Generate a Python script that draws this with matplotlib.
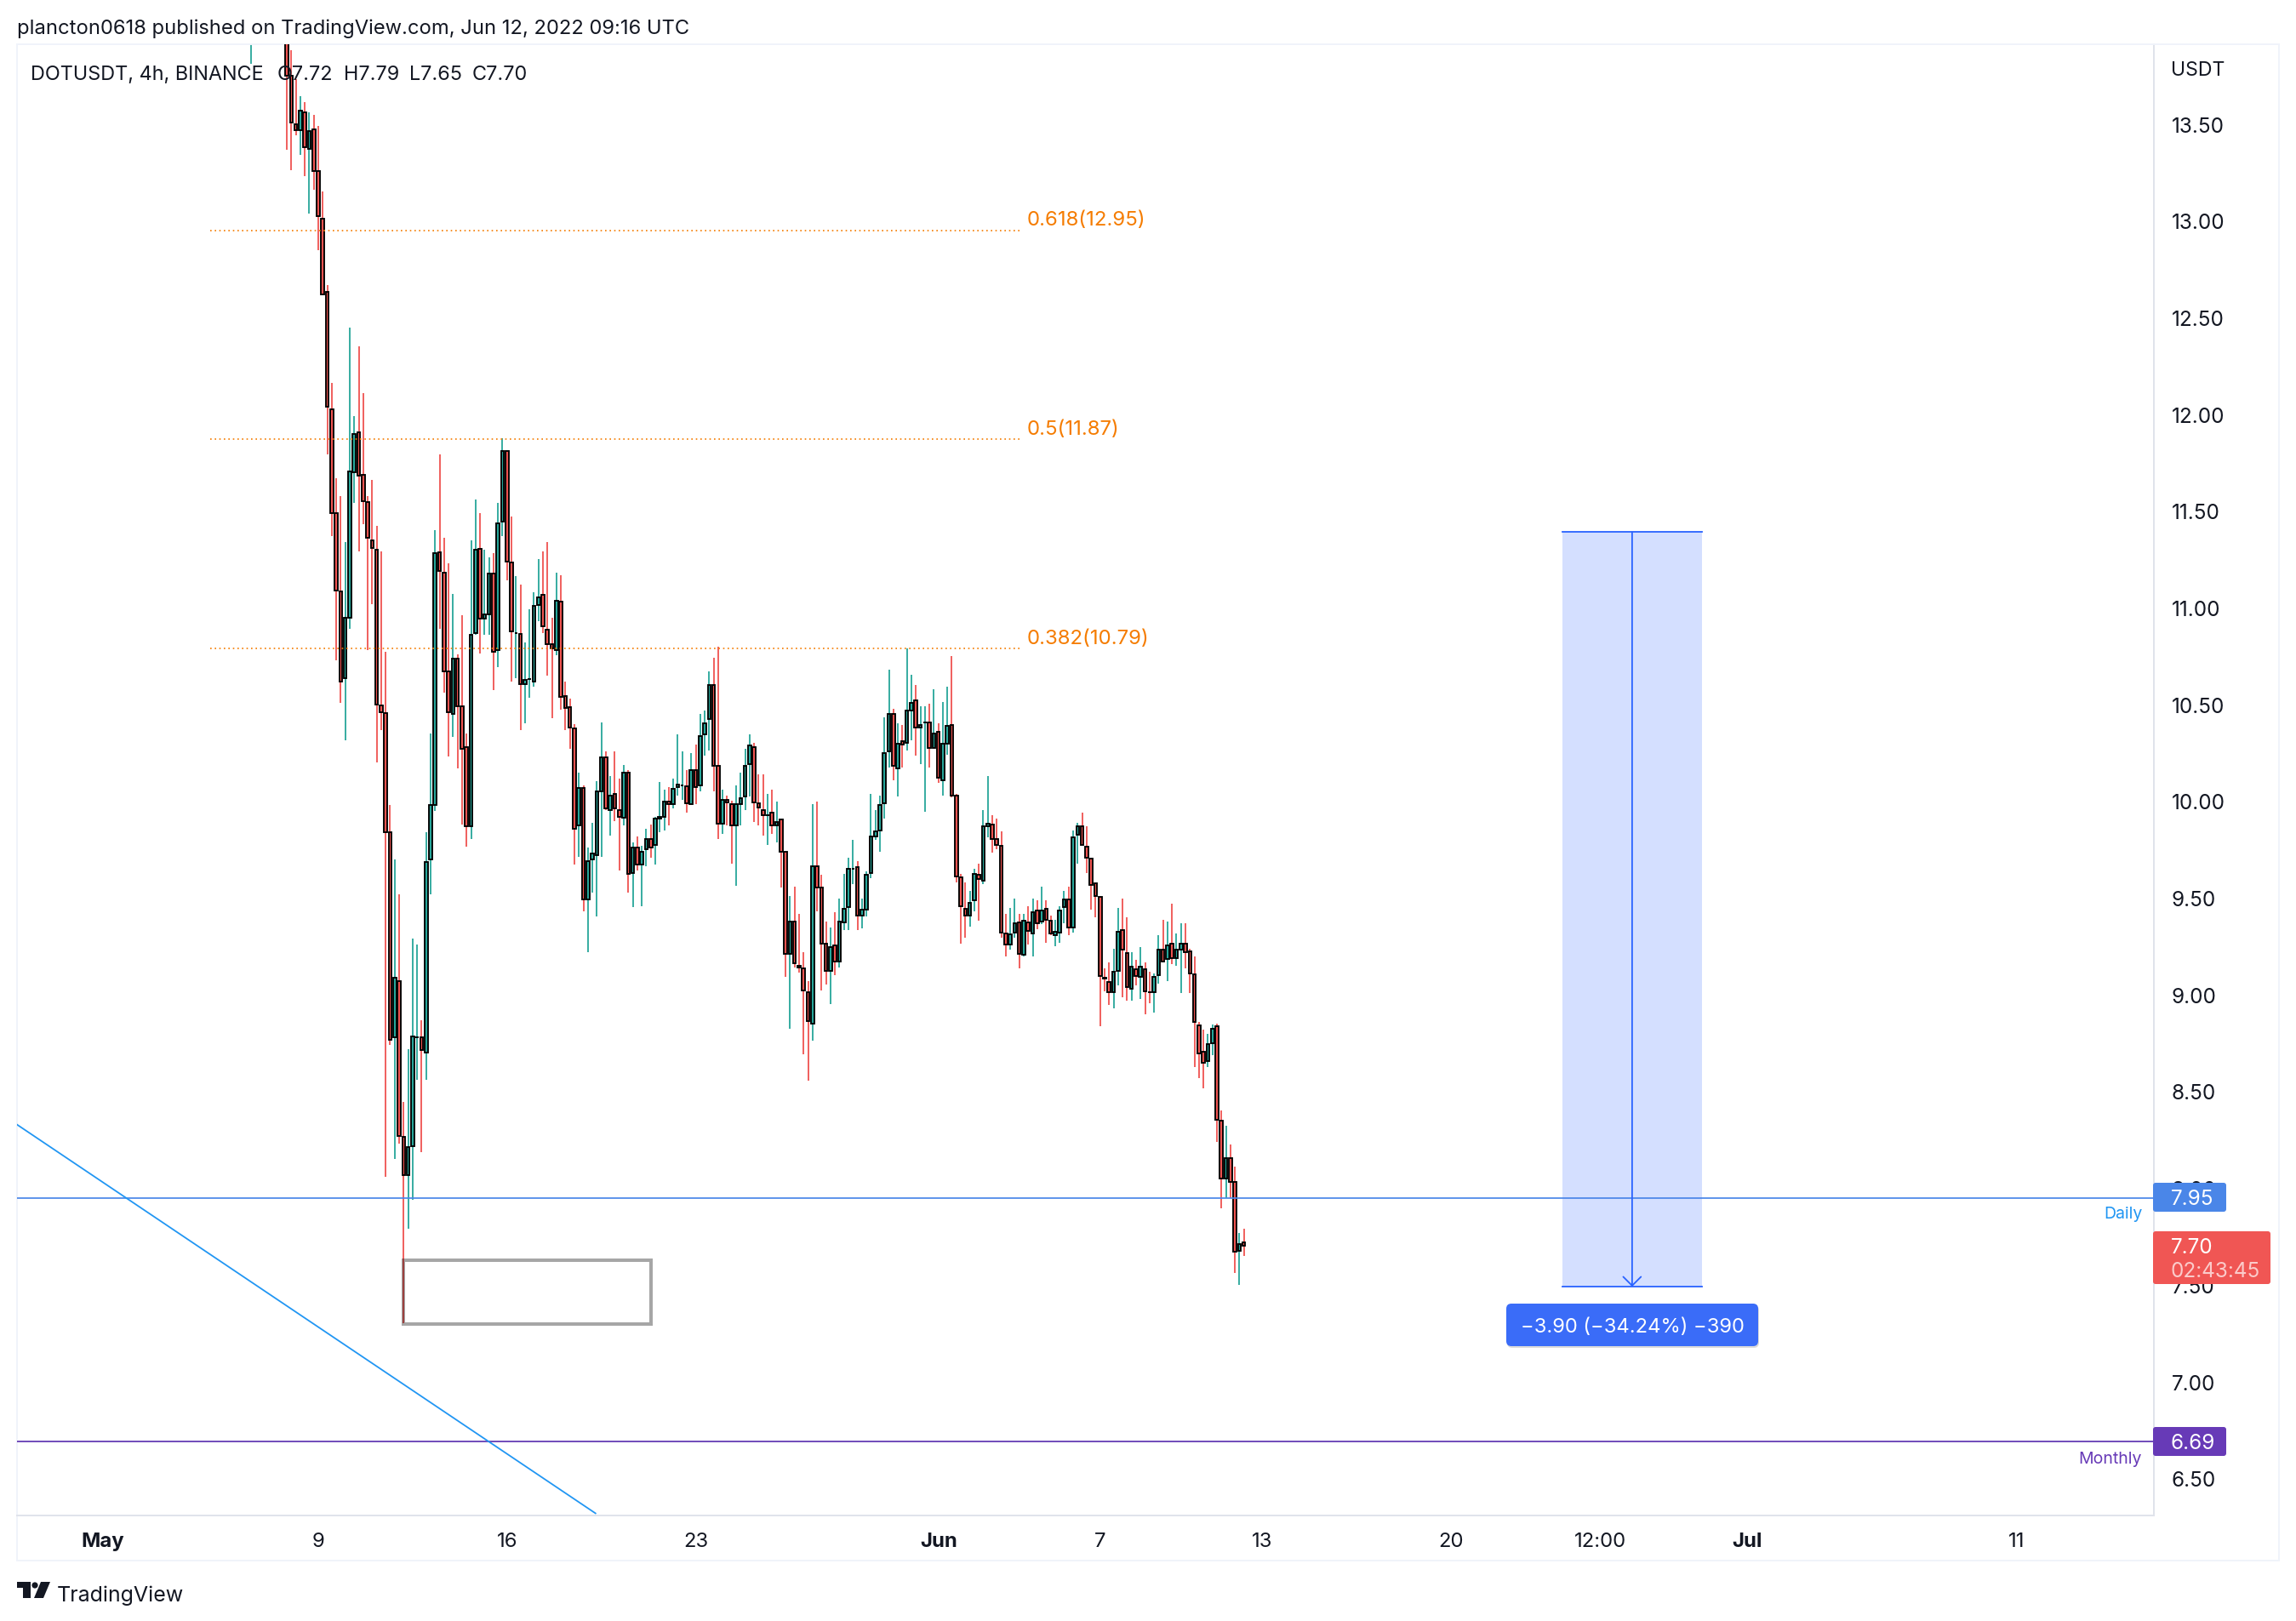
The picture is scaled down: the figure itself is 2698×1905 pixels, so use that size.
import numpy as np
import matplotlib
matplotlib.use("Agg")
import matplotlib.pyplot as plt
from matplotlib.patches import Rectangle, FancyBboxPatch, Polygon, Circle
from matplotlib.transforms import Affine2D

W, H = 2698, 1906
nan = float("nan")

# 4h bars; the bar index counts from May 9 00:00, the first listed bar is -15
first_bar = -15
opens = [14.20, nan, nan, nan, nan, nan, nan, nan,
 14.20, 13.75, 13.50, 13.466, 13.558, 13.372, 13.47,
 13.258, 13.008, 12.63, 12.026, 11.486, 11.085, 10.634, 10.949, 11.701, 11.908,
 11.686, 11.547, 11.346, 11.298, 10.496, 10.456, 9.839, 8.778, 9.068, 8.263,
 8.068, 8.218, 8.781, 8.778, 8.698, 9.70, 9.981, 11.288, 11.179, 10.67,
 10.45, 10.738, 10.488, 10.277, 9.871, 10.868, 11.305, 10.942, 10.965, 11.178,
 10.782, 11.442, 11.808, 11.235, 10.868, 10.865, 10.604, 10.63, 10.619, 11.012,
 11.068, 10.887, 10.81, 10.782, 11.03, 10.543, 10.487, 10.377, 9.873, 10.067,
 9.492, 9.70, 9.719, 10.052, 10.228, 9.953, 10.035, 9.954, 9.913, 10.145,
 9.63, 9.759, 9.671, 9.75, 9.806, 9.771, 9.909, 9.92, 9.997, 9.982,
 10.07, 10.079, 10.076, 9.982, 10.158, 10.079, 10.343, 10.422, 10.598, 10.184,
 9.881, 10.005, 9.986, 9.873, 9.982, 10.023, 10.189, 10.277, 9.988, 9.955,
 9.928, 9.938, 9.873, 9.907, 9.738, 9.209, 9.377, 9.149, 9.135, 9.013,
 8.848, 9.664, 9.555, 9.264, 9.123, 9.256, 9.17, 9.371, 9.453, 9.652,
 9.657, 9.41, 9.44, 9.63, 9.818, 9.85, 9.99, 10.258, 10.45, 10.17,
 10.308, 10.301, 10.47, 10.521, 10.382, 10.407, 10.407, 10.274, 10.356, 10.109,
 10.298, 10.395, 10.026, 9.605, 9.445, 9.41, 9.489, 9.617, 9.589, 9.872,
 9.88, 9.806, 9.767, 9.314, 9.26, 9.319, 9.375, 9.207, 9.375, 9.316,
 9.436, 9.377, 9.445, 9.383, 9.309, 9.319, 9.451, 9.493, 9.348, 9.828,
 9.869, 9.766, 9.704, 9.577, 9.507, 9.085, 9.067, 9.011, 9.121, 9.335,
 9.216, 9.029, 9.133, 9.09, 9.133, 9.014, 9.011, 9.099, 9.234, 9.183,
 9.265, 9.19, 9.231, 9.265, 9.225, 9.106, 8.842, 8.706, 8.658, 8.75,
 8.836, 8.348, 8.048, 8.154, 8.032, 7.677, 7.72]
closes = [14.30, nan, nan, nan, nan, nan, nan, nan,
 13.75, 13.506, 13.466, 13.569, 13.38, 13.462, 13.255,
 13.024, 12.62, 12.04, 11.49, 11.09, 10.619, 10.946, 11.705, 11.899, 11.682,
 11.55, 11.361, 11.308, 10.499, 10.459, 9.839, 8.767, 9.086, 8.267, 8.068,
 8.214, 8.785, 8.781, 8.712, 9.686, 9.978, 11.28, 11.191, 10.67, 10.459,
 10.738, 10.491, 10.271, 9.871, 10.858, 11.298, 10.942, 10.965, 11.178, 10.77,
 11.437, 11.808, 11.239, 10.878, 10.868, 10.604, 10.628, 10.63, 11.008, 11.054,
 10.902, 10.811, 10.788, 11.037, 10.54, 10.48, 10.381, 9.858, 10.067, 9.492,
 9.689, 9.727, 10.049, 10.228, 9.96, 10.026, 9.96, 9.92, 10.145, 9.623,
 9.759, 9.671, 9.736, 9.806, 9.762, 9.909, 9.917, 9.997, 9.982, 10.064,
 10.087, 10.079, 9.989, 10.158, 10.07, 10.338, 10.404, 10.598, 10.181, 9.881,
 10.005, 9.991, 9.873, 9.986, 10.017, 10.184, 10.287, 9.991, 9.967, 9.929,
 9.928, 9.873, 9.894, 9.74, 9.209, 9.377, 9.162, 9.138, 9.021, 8.864,
 9.664, 9.555, 9.264, 9.123, 9.244, 9.17, 9.377, 9.445, 9.649, 9.652,
 9.41, 9.437, 9.617, 9.817, 9.845, 9.979, 10.246, 10.45, 10.18, 10.296,
 10.29, 10.466, 10.508, 10.382, 10.395, 10.407, 10.274, 10.348, 10.12, 10.296,
 10.387, 10.029, 9.61, 9.457, 9.41, 9.476, 9.625, 9.597, 9.869, 9.884,
 9.803, 9.771, 9.319, 9.26, 9.312, 9.367, 9.209, 9.383, 9.331, 9.424,
 9.37, 9.436, 9.388, 9.316, 9.326, 9.436, 9.493, 9.348, 9.814, 9.869,
 9.771, 9.707, 9.568, 9.511, 9.097, 9.083, 9.011, 9.117, 9.326, 9.231,
 9.04, 9.146, 9.096, 9.146, 9.018, 9.011, 9.093, 9.234, 9.169, 9.256,
 9.19, 9.234, 9.265, 9.221, 9.111, 8.86, 8.697, 8.649, 8.746, 8.825,
 8.352, 8.048, 8.154, 8.032, 7.669, 7.71, 7.70]
highs = [14.40, nan, nan, nan, nan, nan, nan, nan,
 14.30, 13.88, 13.73, 13.644, 13.61, 13.56, 13.545,
 13.49, 13.15, 12.666, 12.163, 11.67, 11.574, 11.34, 12.446, 11.99, 12.35,
 12.108, 11.574, 11.661, 11.42, 11.29, 10.77, 9.981, 9.70, 9.52, 8.446,
 8.717, 9.289, 9.26, 8.868, 9.839, 10.349, 11.40, 11.793, 11.361, 11.229,
 11.07, 10.76, 10.961, 10.349, 11.349, 11.559, 11.488, 11.301, 11.261, 11.283,
 11.543, 11.877, 11.808, 11.471, 11.161, 11.119, 10.818, 10.993, 11.081, 11.251,
 11.29, 11.339, 10.949, 11.18, 11.169, 10.619, 10.531, 10.399, 10.148, 10.079,
 9.762, 9.888, 10.101, 10.407, 10.258, 10.13, 10.258, 10.118, 10.187, 10.162,
 9.788, 9.818, 9.769, 9.857, 9.879, 9.92, 10.099, 10.06, 10.07, 10.118,
 10.343, 10.258, 10.162, 10.25, 10.29, 10.451, 10.47, 10.672, 10.741, 10.797,
 10.06, 10.03, 10.0, 10.079, 10.148, 10.272, 10.343, 10.299, 10.14, 10.14,
 10.038, 10.06, 9.998, 9.907, 9.738, 9.511, 9.558, 9.418, 9.22, 9.071,
 9.982, 9.999, 9.621, 9.377, 9.347, 9.426, 9.496, 9.622, 9.709, 9.801,
 9.691, 9.496, 9.638, 10.038, 9.952, 10.03, 10.431, 10.681, 10.478, 10.40,
 10.392, 10.791, 10.651, 10.602, 10.492, 10.492, 10.502, 10.58, 10.40, 10.51,
 10.59, 10.751, 10.038, 9.622, 9.581, 9.536, 9.652, 9.677, 9.952, 10.131,
 9.928, 9.911, 9.842, 9.419, 9.449, 9.498, 9.419, 9.419, 9.458, 9.498,
 9.489, 9.559, 9.489, 9.41, 9.388, 9.458, 9.537, 9.559, 9.85, 9.889,
 9.942, 9.872, 9.704, 9.577, 9.507, 9.136, 9.168, 9.238, 9.449, 9.498,
 9.401, 9.221, 9.181, 9.247, 9.168, 9.119, 9.111, 9.309, 9.388, 9.379,
 9.471, 9.317, 9.37, 9.37, 9.238, 9.199, 8.86, 8.82, 8.798, 8.847,
 8.848, 8.399, 8.32, 8.227, 8.109, 7.77, 7.79]
lows = [13.81, nan, nan, nan, nan, nan, nan, nan,
 13.365, 13.26, 13.44, 13.34, 13.23, 13.035, 13.16,
 12.846, 12.62, 11.79, 11.371, 10.729, 10.509, 10.313, 10.892, 11.543, 11.29,
 11.433, 10.782, 11.019, 10.201, 10.367, 8.06, 8.738, 8.15, 8.228, 7.303,
 7.79, 7.938, 8.559, 8.187, 8.559, 9.52, 9.95, 10.892, 10.562, 10.232,
 10.33, 10.17, 9.88, 9.763, 9.802, 10.861, 10.761, 10.861, 10.861, 10.572,
 10.69, 11.371, 11.142, 10.619, 10.634, 10.368, 10.40, 10.533, 10.591, 10.931,
 10.868, 10.65, 10.43, 10.752, 10.471, 10.368, 10.271, 9.671, 9.711, 9.429,
 9.221, 9.529, 9.403, 9.711, 9.953, 9.82, 9.898, 9.639, 9.873, 9.529,
 9.451, 9.639, 9.458, 9.661, 9.709, 9.671, 9.841, 9.85, 9.873, 9.961,
 10.03, 10.008, 9.942, 9.979, 9.982, 10.052, 10.233, 10.26, 10.052, 9.803,
 9.829, 9.873, 9.678, 9.561, 9.873, 9.953, 10.023, 9.891, 9.873, 9.82,
 9.771, 9.829, 9.788, 9.554, 9.091, 8.824, 9.138, 9.112, 8.691, 8.557,
 8.761, 9.429, 9.02, 9.052, 8.95, 9.099, 9.138, 9.332, 9.332, 9.57,
 9.332, 9.34, 9.402, 9.602, 9.801, 9.74, 9.911, 10.172, 10.109, 10.023,
 10.172, 10.261, 10.312, 10.235, 10.191, 9.944, 10.172, 10.274, 10.093, 10.03,
 10.241, 10.021, 9.581, 9.261, 9.292, 9.35, 9.429, 9.382, 9.57, 9.811,
 9.735, 9.751, 9.292, 9.199, 9.231, 9.292, 9.137, 9.199, 9.26, 9.199,
 9.339, 9.363, 9.269, 9.309, 9.248, 9.269, 9.37, 9.309, 9.319, 9.678,
 9.771, 9.63, 9.441, 9.401, 8.838, 9.018, 8.948, 8.93, 9.049, 8.988,
 8.97, 8.97, 9.049, 8.979, 8.899, 8.957, 8.908, 9.058, 9.169, 9.071,
 9.159, 9.15, 9.009, 9.137, 9.009, 8.627, 8.57, 8.517, 8.627, 8.688,
 8.24, 7.897, 7.95, 7.949, 7.56, 7.499, 7.65]

price_ticks = [13.5, 13.0, 12.5, 12.0, 11.5, 11.0, 10.5, 10.0, 9.5, 9.0, 8.5, 8.0, 7.5, 7.0, 6.5]
time_ticks = [-48, 0, 42, 84, 138, 174, 210, 252, 285.4, 318, 378]
time_labels = ["May", "9", "16", "23", "Jun", "7", "13", "20", "12:00", "Jul", "11"]
bold_labels = ["May", "Jun", "Jul"]

fib_levels = [12.95, 11.87, 10.79]
fib_labels = ["0.618(12.95)", "0.5(11.87)", "0.382(10.79)"]
fib_span = [-24, 156]
daily_level = 7.95
monthly_level = 6.69
trend_x = [-67.05, 61.7]
trend_y = [8.328, 6.319]
box_x = [18.9, 74.0]
box_y = [7.298, 7.627]
measure_x = [276.9, 292.4, 308.0]
measure_y = [11.39, 7.49]

RED, TEAL = "#EF5350", "#26A69A"
INK = "#131722"
plt.rcParams["font.family"] = ["Inter", "DejaVu Sans"]

fig = plt.figure(figsize=(W / 100, H / 100), dpi=100, facecolor="white")
L, T, R, B = 20, 53, 2531, 1782
ax = fig.add_axes([L / W, 1 - B / H, (R - L) / W, (B - T) / H])
ax.set_xlim((L - 374) / 5.28, (R - 374) / 5.28)
ax.set_ylim(13.5 - (B - 146.5) / 227.4, 13.5 - (T - 146.5) / 227.4)
px = Affine2D().scale(1, -1).translate(0, H)

idx = np.arange(len(opens)) + first_bar
o, h, l, c = map(np.array, (opens, highs, lows, closes))
cols = [TEAL if a >= b else RED for a, b in zip(c, o)]
wicks = ax.vlines(idx, l, h, colors=cols, linewidth=1.3, zorder=2)
ax.bar(idx, np.abs(c - o), bottom=np.minimum(o, c), width=0.68, color=cols,
       edgecolor="black", linewidth=1.35, zorder=3)

# drawings
for lev in fib_levels:
    ax.plot(fib_span, [lev, lev], color="#F57C00", lw=1.2, ls=(0, (1, 2.2)), zorder=4)
for lab, yy in zip(fib_labels, [259, 505, 751]):
    ax.text(1207, yy, lab, transform=px, color="#F57C00", fontsize=17.3, va="center", ha="left", zorder=6)
ax.axhline(daily_level, color="#4A86E8", lw=1.25, zorder=4)
ax.axhline(monthly_level, color="#5E35B1", lw=1.25, zorder=4)
ax.plot(trend_x, trend_y, color="#2196F3", lw=1.3, zorder=4)
ax.add_patch(Rectangle((box_x[0], box_y[0]), box_x[1] - box_x[0], box_y[1] - box_y[0],
                       fill=False, edgecolor="black", alpha=0.35, lw=2.9, zorder=4))
ax.add_patch(Rectangle((measure_x[0], measure_y[1]), measure_x[2] - measure_x[0], measure_y[0] - measure_y[1],
                       facecolor="#2962FF", alpha=0.2, lw=0, zorder=1.5))
for yv in measure_y:
    ax.plot([measure_x[0], measure_x[2]], [yv, yv], color="#2962FF", lw=1.3, zorder=4)
ax.annotate("", xy=(measure_x[1], measure_y[1]), xytext=(measure_x[1], measure_y[0]),
            arrowprops=dict(arrowstyle="->,head_length=7.5,head_width=7.5", mutation_scale=1,
                            color="#2962FF", lw=1.3, shrinkA=0, shrinkB=0), zorder=4)

# axes
ax.yaxis.tick_right()
ax.set_yticks(price_ticks)
ax.set_yticklabels([f"{v:.2f}" for v in price_ticks], fontsize=17.5, color=INK, ha="left")
ax.tick_params(axis="y", length=0, pad=15)
ax.set_xticks(time_ticks)
ax.set_xticklabels(time_labels, fontsize=17.2, color=INK)
ax.tick_params(axis="x", length=0, pad=14)
for t in ax.get_xticklabels():
    if t.get_text() in bold_labels:
        t.set_fontweight("bold")
for s in ("right", "bottom"):
    ax.spines[s].set_color("#E0E3EB")
    ax.spines[s].set_linewidth(1.4)
for s in ("left", "top"):
    ax.spines[s].set_color("#F0F3FA")
    ax.spines[s].set_linewidth(1.4)

# outer frame
def line(xs, ys, col="#F0F3FA"):
    ax.plot(xs, ys, transform=px, color=col, lw=1.4, clip_on=False, zorder=1)
line([L, 2678], [T, T]); line([2678, 2678], [T, 1835]); line([L, 2678], [1835, 1835]); line([L, L], [T, 1835])

# tags
def tag(x0, y0, x1, y1, col):
    ax.add_patch(FancyBboxPatch((x0 + 3, y0 + 3), x1 - x0 - 6, y1 - y0 - 6, boxstyle="round,pad=3,rounding_size=3",
                                transform=px, facecolor=col, edgecolor="none", clip_on=False, zorder=8))
tag(2530, 1391, 2616, 1425, "#4A86E8")
tag(2530, 1448, 2668, 1510, "#F05654")
tag(2530, 1678, 2616, 1712, "#673AB7")
kw = dict(transform=px, va="center", ha="left", fontsize=17.5, zorder=9, clip_on=False)
ax.text(2551, 1410, "7.95", color="white", **kw)
ax.text(2551, 1467, "7.70", color="white", **kw)
ax.text(2551, 1495, "02:43:45", color="#FBCBCA", **kw)
ax.text(2551, 1697, "6.69", color="white", **kw)
ax.text(2517, 1427, "Daily", color="#2196F3", transform=px, va="center", ha="right", fontsize=14, zorder=9)
ax.text(2517, 1715, "Monthly", color="#673AB7", transform=px, va="center", ha="right", fontsize=14, zorder=9)
ax.text(2551, 83, "USDT", color=INK, transform=px, va="center", ha="left", fontsize=16.6, clip_on=False, zorder=9)

# measure label
ax.add_patch(FancyBboxPatch((1777, 1541), 284, 38, boxstyle="round,pad=6,rounding_size=6", transform=px,
                            facecolor="#000000", alpha=0.14, edgecolor="none", clip_on=False, zorder=7.5))
ax.add_patch(FancyBboxPatch((1776, 1539), 284, 38, boxstyle="round,pad=6,rounding_size=6", transform=px,
                            facecolor="#3A6CF8", edgecolor="none", clip_on=False, zorder=8))
ax.text(1918, 1560, "\u22123.90 (\u221234.24%) \u2212390", transform=px, color="white", fontsize=17.1,
        va="center", ha="center", zorder=9)

# header and legend
ax.text(20, 34, "plancton0618 published on TradingView.com, Jun 12, 2022 09:16 UTC", transform=px,
        color=INK, fontsize=17.1, va="center", ha="left", clip_on=False, zorder=9)
for xx, s in zip([36, 326, 404, 481, 555],
                 ["DOTUSDT, 4h, BINANCE", "O7.72", "H7.79", "L7.65", "C7.70"]):
    ax.text(xx, 88, s, transform=px, color=INK, fontsize=16.9, va="center", ha="left", zorder=9)

# logo
ax.add_patch(Polygon([(20, 1860), (36, 1860), (36, 1879), (27, 1879), (27, 1867), (20, 1867)],
                     transform=px, facecolor=INK, edgecolor="none", clip_on=False))
ax.add_patch(Circle((41, 1864), 3.6, transform=px, facecolor=INK, edgecolor="none", clip_on=False))
ax.add_patch(Polygon([(48, 1860), (59, 1860), (51, 1879), (40, 1879)],
                     transform=px, facecolor=INK, edgecolor="none", clip_on=False))
ax.text(67, 1875, "TradingView", transform=px, color=INK, fontsize=18, va="center", ha="left", clip_on=False)

fig.savefig("out.png", dpi=100, facecolor="white")
